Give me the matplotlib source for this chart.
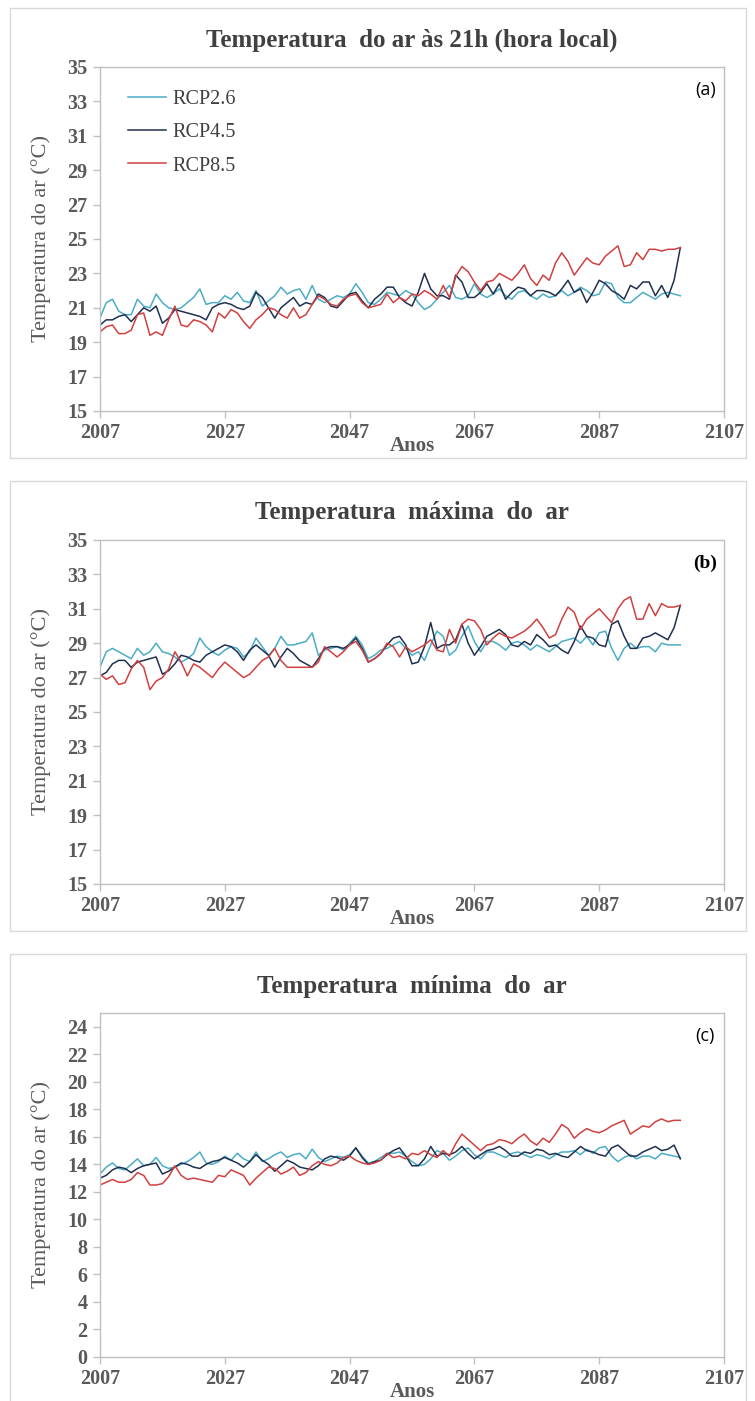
import numpy as np
import matplotlib
matplotlib.use("Agg")
import matplotlib.pyplot as plt
from matplotlib.patches import Rectangle

years = np.arange(2007, 2101)

# (a) air temperature at 21h
a_rcp26 = [20.4, 21.3, 21.5, 20.8, 20.6, 20.6, 21.5, 21.1, 21.0, 21.8,
           21.3, 21.0, 20.9, 21.0, 21.3, 21.6, 22.1, 21.2, 21.3, 21.3,
           21.7, 21.5, 21.9, 21.4, 21.3, 22.0, 21.1, 21.4, 21.7, 22.2,
           21.8, 22.0, 22.1, 21.5, 22.3, 21.5, 21.3, 21.5, 21.7, 21.6,
           21.8, 22.4, 21.9, 21.3, 21.2, 21.5, 21.9, 21.8, 21.7, 22.0,
           21.8, 21.3, 20.9, 21.1, 21.5, 21.9, 22.3, 21.6, 21.5, 21.7,
           22.4, 21.8, 21.6, 21.8, 22.1, 21.7, 21.5, 21.9, 22.0, 21.7,
           21.5, 21.8, 21.6, 21.7, 22.0, 21.7, 21.9, 22.2, 22.0, 21.7,
           21.8, 22.5, 22.4, 21.6, 21.3, 21.3, 21.6, 21.9, 21.7, 21.5,
           21.8, 21.9, 21.8, 21.7]
a_rcp45 = [20.0, 20.3, 20.3, 20.5, 20.6, 20.2, 20.6, 21.0, 20.8, 21.1,
           20.1, 20.4, 20.9, 20.8, 20.7, 20.6, 20.5, 20.3, 21.0, 21.2,
           21.3, 21.2, 21.0, 20.9, 21.1, 21.9, 21.6, 21.0, 20.4, 21.0,
           21.3, 21.6, 21.1, 21.3, 21.2, 21.8, 21.6, 21.1, 21.0, 21.4,
           21.8, 21.9, 21.4, 21.0, 21.5, 21.8, 22.2, 22.2, 21.6, 21.3,
           21.1, 21.9, 23.0, 22.1, 21.7, 21.7, 21.5, 22.9, 22.5, 21.6,
           21.6, 21.9, 22.4, 21.8, 22.4, 21.5, 21.9, 22.2, 22.1, 21.7,
           22.0, 22.0, 21.9, 21.7, 22.1, 22.6, 21.9, 22.1, 21.3, 21.9,
           22.6, 22.4, 22.0, 21.8, 21.5, 22.3, 22.1, 22.5, 22.5, 21.7,
           22.3, 21.6, 22.6, 24.5]
a_rcp85 = [19.6, 19.9, 20.0, 19.5, 19.5, 19.7, 20.6, 20.7, 19.4, 19.6,
           19.4, 20.3, 21.1, 20.0, 19.9, 20.3, 20.2, 20.0, 19.6, 20.7,
           20.4, 20.9, 20.7, 20.2, 19.8, 20.3, 20.6, 21.0, 20.9, 20.6,
           20.4, 21.0, 20.4, 20.6, 21.2, 21.7, 21.5, 21.2, 21.1, 21.5,
           21.7, 21.8, 21.3, 21.0, 21.1, 21.2, 21.8, 21.3, 21.6, 21.4,
           21.8, 21.7, 22.0, 21.8, 21.5, 22.3, 21.6, 22.8, 23.4, 23.1,
           22.5, 22.0, 22.5, 22.6, 23.0, 22.8, 22.6, 23.0, 23.5, 22.7,
           22.3, 22.9, 22.6, 23.6, 24.2, 23.7, 22.9, 23.4, 23.9, 23.6,
           23.5, 24.0, 24.3, 24.6, 23.4, 23.5, 24.2, 23.8, 24.4, 24.4,
           24.3, 24.4, 24.4, 24.5]

# (b) maximum air temperature
b_rcp26 = [27.6, 28.5, 28.7, 28.5, 28.3, 28.1, 28.7, 28.3, 28.5, 29.0,
           28.5, 28.4, 28.2, 27.9, 28.1, 28.4, 29.3, 28.8, 28.5, 28.3,
           28.6, 28.8, 28.7, 28.2, 28.5, 29.3, 28.8, 28.3, 28.7, 29.4,
           28.9, 28.9, 29.0, 29.1, 29.6, 28.3, 28.6, 28.7, 28.8, 28.6,
           29.0, 29.4, 28.9, 28.1, 28.3, 28.6, 28.7, 28.9, 29.1, 28.7,
           28.3, 28.5, 28.0, 28.9, 29.7, 29.4, 28.3, 28.6, 29.4, 30.0,
           29.1, 28.5, 29.1, 29.1, 28.9, 28.6, 29.0, 29.1, 28.9, 28.6,
           28.9, 28.7, 28.5, 28.8, 29.1, 29.2, 29.3, 29.0, 29.4, 28.9,
           29.6, 29.7, 28.7, 28.0, 28.7, 29.0, 28.7, 28.8, 28.8, 28.5,
           29.0, 28.9, 28.9, 28.9]
b_rcp45 = [27.1, 27.3, 27.8, 28.0, 28.0, 27.6, 27.9, 28.0, 28.1, 28.2,
           27.2, 27.4, 27.8, 28.3, 28.2, 28.0, 27.9, 28.3, 28.5, 28.7,
           28.9, 28.8, 28.5, 28.0, 28.6, 28.9, 28.6, 28.3, 27.6, 28.2,
           28.7, 28.4, 28.0, 27.8, 27.6, 28.1, 28.7, 28.8, 28.8, 28.7,
           28.9, 29.3, 28.7, 27.9, 28.1, 28.4, 28.9, 29.3, 29.4, 28.9,
           27.8, 27.9, 28.8, 30.2, 28.7, 28.9, 28.9, 29.2, 30.1, 29.0,
           28.3, 28.8, 29.4, 29.6, 29.8, 29.5, 28.9, 28.8, 29.1, 28.9,
           29.5, 29.2, 28.8, 28.9, 28.6, 28.4, 29.1, 30.0, 29.4, 29.3,
           28.9, 28.8, 30.1, 30.3, 29.4, 28.7, 28.7, 29.3, 29.4, 29.6,
           29.4, 29.2, 29.9, 31.2]
b_rcp85 = [27.2, 26.9, 27.1, 26.6, 26.7, 27.5, 28.0, 27.6, 26.3, 26.8,
           27.0, 27.5, 28.5, 27.9, 27.1, 27.8, 27.6, 27.3, 27.0, 27.5,
           27.9, 27.6, 27.3, 27.0, 27.2, 27.6, 28.0, 28.2, 28.7, 28.0,
           27.6, 27.6, 27.6, 27.6, 27.6, 27.9, 28.8, 28.5, 28.2, 28.5,
           28.9, 29.1, 28.6, 27.9, 28.1, 28.4, 29.0, 28.8, 28.2, 28.8,
           28.5, 28.7, 28.9, 29.2, 28.6, 28.5, 29.8, 29.0, 30.1, 30.4,
           30.3, 29.8, 28.9, 29.3, 29.6, 29.4, 29.3, 29.5, 29.7, 30.0,
           30.4, 29.9, 29.3, 29.5, 30.4, 31.1, 30.8, 29.8, 30.4, 30.7,
           31.0, 30.6, 30.2, 31.0, 31.5, 31.7, 30.4, 30.4, 31.3, 30.6,
           31.3, 31.1, 31.1, 31.2]

# (c) minimum air temperature
c_rcp26 = [13.3, 13.8, 14.1, 13.7, 13.6, 14.0, 14.4, 13.9, 14.0, 14.5,
           13.9, 13.7, 13.8, 14.0, 14.2, 14.5, 14.9, 14.1, 14.0, 14.2,
           14.6, 14.3, 14.8, 14.4, 14.2, 14.9, 14.2, 14.4, 14.7, 14.9,
           14.5, 14.7, 14.8, 14.4, 15.1, 14.5, 14.2, 14.4, 14.6, 14.5,
           14.7, 15.2, 14.6, 14.1, 14.2, 14.5, 14.8, 14.8, 14.9, 14.6,
           14.2, 13.9, 14.0, 14.4, 15.0, 14.8, 14.3, 14.6, 15.0, 15.2,
           14.7, 14.4, 14.9, 14.9, 14.7, 14.5, 14.8, 14.9, 14.7, 14.5,
           14.7, 14.6, 14.4, 14.7, 14.9, 14.9, 15.0, 14.7, 15.1, 14.8,
           15.2, 15.3, 14.6, 14.2, 14.5, 14.7, 14.4, 14.6, 14.6, 14.4,
           14.8, 14.7, 14.6, 14.5]
c_rcp45 = [13.0, 13.2, 13.6, 13.8, 13.7, 13.4, 13.7, 13.9, 14.0, 14.1,
           13.3, 13.5, 13.8, 14.1, 14.0, 13.8, 13.7, 14.0, 14.2, 14.3,
           14.5, 14.3, 14.1, 13.8, 14.2, 14.7, 14.3, 14.0, 13.5, 13.9,
           14.3, 14.1, 13.8, 13.7, 13.6, 13.9, 14.4, 14.6, 14.5, 14.3,
           14.6, 15.2, 14.5, 14.0, 14.2, 14.3, 14.7, 15.0, 15.2, 14.6,
           13.9, 13.9, 14.4, 15.3, 14.6, 14.8, 14.7, 14.9, 15.3, 14.8,
           14.4, 14.7, 15.0, 15.1, 15.3, 15.0, 14.6, 14.6, 14.9, 14.8,
           15.1, 15.0, 14.7, 14.8, 14.6, 14.5, 14.9, 15.3, 15.0, 14.9,
           14.7, 14.6, 15.2, 15.4, 15.0, 14.6, 14.6, 14.9, 15.1, 15.3,
           15.0, 15.1, 15.4, 14.4]
c_rcp85 = [12.5, 12.7, 12.9, 12.7, 12.7, 12.9, 13.4, 13.2, 12.5, 12.5,
           12.6, 13.1, 13.9, 13.2, 12.9, 13.0, 12.9, 12.8, 12.7, 13.2,
           13.1, 13.6, 13.4, 13.2, 12.5, 13.0, 13.4, 13.8, 13.7, 13.3,
           13.5, 13.8, 13.2, 13.4, 13.9, 14.2, 14.0, 13.9, 14.1, 14.5,
           14.6, 14.3, 14.1, 14.0, 14.1, 14.3, 14.8, 14.5, 14.6, 14.4,
           14.8, 14.7, 15.0, 14.7, 14.5, 15.0, 14.6, 15.5, 16.2, 15.8,
           15.4, 15.0, 15.4, 15.5, 15.8, 15.7, 15.5, 15.9, 16.2, 15.7,
           15.4, 15.9, 15.6, 16.2, 16.9, 16.6, 15.9, 16.3, 16.6, 16.4,
           16.3, 16.5, 16.8, 17.0, 17.2, 16.2, 16.5, 16.8, 16.7, 17.1,
           17.3, 17.1, 17.2, 17.2]

labels = ["RCP2.6", "RCP4.5", "RCP8.5"]
colors = ["#4bacc6", "#1f3050", "#d04040"]

titles = ["Temperatura  do ar às 21h (hora local)",
          "Temperatura  máxima  do  ar",
          "Temperatura  mínima  do  ar"]
tags = ["(a)", "(b)", "(c)"]
ylims = [(15, 35), (15, 35), (0, 25)]
yticks = [np.arange(15, 36, 2), np.arange(15, 36, 2), np.arange(0, 25, 2)]
xticks = np.arange(2007, 2108, 20)
panels = [(a_rcp26, a_rcp45, a_rcp85),
          (b_rcp26, b_rcp45, b_rcp85),
          (c_rcp26, c_rcp45, c_rcp85)]

W, H = 755, 1401
fig = plt.figure(figsize=(W / 100, H / 100), dpi=100)
serif = "Liberation Serif"
grey_txt = "#595959"
spine_col = "#c0c0c0"

for i, series in enumerate(panels):
    off = 473 * i
    # outer panel box
    fig.patches.append(Rectangle((10 / W, 1 - (458 + off) / H), 736 / W, 450 / H,
                                 transform=fig.transFigure, fill=False,
                                 edgecolor="#d9d9d9", lw=1.0))
    ax_top = 67 + off
    ax = fig.add_axes([100 / W, 1 - (ax_top + 344) / H, 624 / W, 344 / H])
    for s, lab, col in zip(series, labels, colors):
        ax.plot(years, s, color=col, lw=1.1, label=lab)
    ax.set_xlim(2007, 2107)
    ax.set_ylim(*ylims[i])
    ax.set_xticks(xticks)
    ax.set_yticks(yticks[i])
    for sp in ax.spines.values():
        sp.set_color(spine_col)
        sp.set_linewidth(1.0)
    ax.tick_params(direction="out", length=5, color=spine_col, width=1.0,
                   labelsize=14.5, labelcolor=grey_txt, pad=4)
    for t in ax.get_xticklabels() + ax.get_yticklabels():
        t.set_fontfamily(serif)
        t.set_fontweight("bold")
    ax.set_ylabel("Temperatura do ar (°C)", fontsize=16, family=serif,
                  color=grey_txt)
    ax.yaxis.set_label_coords(-0.078, 0.5)
    fig.text(412 / W, 1 - (446 + off) / H, "Anos", ha="center", va="center",
             fontsize=15, family=serif, fontweight="bold", color=grey_txt)
    fig.text(412 / W, 1 - (40 + off) / H, titles[i], ha="center", va="center",
             fontsize=18, family=serif, fontweight="bold", color="#404040")
    if i == 1:
        ax.text(0.97, 0.933, tags[i], transform=ax.transAxes, ha="center",
                va="center", fontsize=14, family=serif, fontweight="bold",
                color="black")
    else:
        ax.text(0.97, 0.933, tags[i], transform=ax.transAxes, ha="center",
                va="center", fontsize=13, family="Open Sans", color="black")
    if i == 0:
        leg = ax.legend(loc="upper left", bbox_to_anchor=(0.045, 0.933),
                        frameon=False, borderaxespad=0, borderpad=0,
                        handlelength=1.9, handletextpad=0.3, labelspacing=0.7,
                        prop={"family": serif, "size": 14.5})
        for t in leg.get_texts():
            t.set_color("#404040")

fig.savefig("out.png", dpi=100)
